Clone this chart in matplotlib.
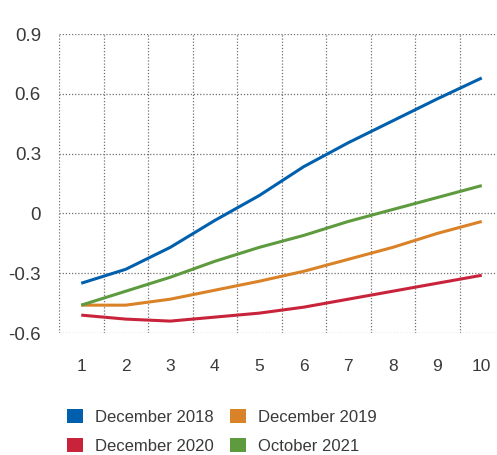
import matplotlib
matplotlib.use("Agg")
import matplotlib.pyplot as plt
from matplotlib.patches import Patch
import numpy as np

# horizon (steps ahead)
steps = [1, 2, 3, 4, 5, 6, 7, 8, 9, 10]

dec_2018 = [-0.35, -0.28, -0.17, -0.035, 0.09, 0.235, 0.355, 0.465, 0.575, 0.68]
dec_2019 = [-0.46, -0.46, -0.43, -0.385, -0.34, -0.29, -0.23, -0.17, -0.10, -0.04]
dec_2020 = [-0.51, -0.53, -0.54, -0.52, -0.50, -0.47, -0.43, -0.39, -0.35, -0.31]
oct_2021 = [-0.46, -0.39, -0.32, -0.24, -0.17, -0.11, -0.04, 0.02, 0.08, 0.14]

y_ticks = [-0.6, -0.3, 0, 0.3, 0.6, 0.9]
y_labels = ["-0.6", "-0.3", "0", "0.3", "0.6", "0.9"]

series = [
    ("December 2018", dec_2018, "#0060AD"),
    ("December 2019", dec_2019, "#DA8228"),
    ("December 2020", dec_2020, "#C8233A"),
    ("October 2021", oct_2021, "#5E9A3E"),
]

plt.rcParams.update({
    "font.family": ["Liberation Sans", "DejaVu Sans"],
    "axes.unicode_minus": False,
})

fig = plt.figure(figsize=(4.97, 4.55), dpi=100)
ax = fig.add_axes([59 / 497, 0.268, 437 / 497, 0.657])

for name, vals, color in series:
    ax.plot(steps, vals, color=color, linewidth=2.2, solid_capstyle="butt")

ax.set_xlim(0.5, 10.32)
ax.set_ylim(-0.6, 0.9)
ax.set_xticks(steps)
ax.set_xticks(np.arange(0.5, 10, 1.0), minor=True)
ax.set_yticks(y_ticks)
ax.set_yticklabels(y_labels)

ax.grid(which="minor", axis="x", color="#707070", linestyle=(0, (1, 1.5)), linewidth=0.9)
ax.grid(which="major", axis="y", color="#707070", linestyle=(0, (1, 1.5)), linewidth=0.9)
ax.grid(which="major", axis="x", visible=False)
ax.set_axisbelow(True)
for s in ax.spines.values():
    s.set_visible(False)

ax.tick_params(axis="both", which="both", length=0)
ax.tick_params(axis="y", labelsize=13.5, pad=13, colors="#3a3a3a")
ax.tick_params(axis="x", labelsize=12.5, pad=19, colors="#3a3a3a")

order = [0, 2, 1, 3]
handles = [Patch(facecolor=series[i][2], edgecolor="none") for i in order]
labels = [series[i][0] for i in order]
fig.legend(
    handles, labels,
    loc="upper left",
    bbox_to_anchor=(52 / 497, 1 - 394 / 455),
    ncol=2,
    frameon=False,
    fontsize=12,
    handlelength=0.96,
    handleheight=0.96,
    handletextpad=0.72,
    columnspacing=0.95,
    labelspacing=0.78,
    labelcolor="#3a3a3a",
)

fig.savefig("out.png", dpi=100)
